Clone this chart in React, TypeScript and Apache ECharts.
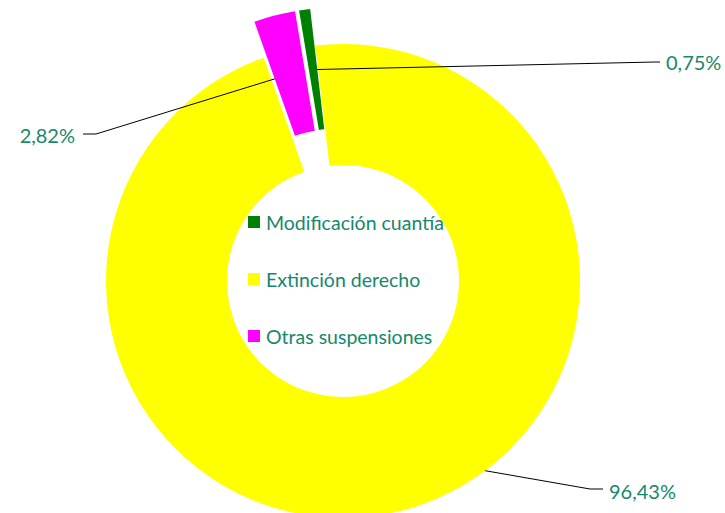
import React, { useEffect, useRef } from "react";
import * as echarts from "echarts";

const categories = ["Modificación cuantía", "Extinción derecho", "Otras suspensiones"];
const values = [0.75, 96.43, 2.82];
const valueLabels = ["0,75%", "96,43%", "2,82%"];
const colors = ["#008000", "#FFFF00", "#FF00FF"];
const exploded = [true, false, true];

const TEXT = "#17876C";
const FONT = "Lato";
const CX = 343;
const CY = 281;
const R_IN = 116;
const R_OUT = 237;
const OFFSET = 37;
const START_DEG = -9.4; // clockwise from 12 o'clock

// label text / elbow positions (layout, not data)
const labelPos = [
  { x: 666, y: 62, align: "left", elbow: [655, 62], end: [660, 62] },
  { x: 609, y: 491, align: "left", elbow: [590, 489], end: [603, 489] },
  { x: 75, y: 135, align: "right", elbow: [96, 134], end: [83, 134] },
];

export default function App() {
  const ref = useRef<HTMLDivElement>(null);
  useEffect(() => {
    if (!ref.current) return;
    const chart = echarts.init(ref.current, undefined, { renderer: "svg" });
    const total = values.reduce((a, b) => a + b, 0);
    const startPts: number[][] = [];
    const shifts: number[][] = [];
    let acc = START_DEG;
    values.forEach((v, i) => {
      const span = (v / total) * 360;
      const mid = ((acc + span / 2) * Math.PI) / 180;
      const off = exploded[i] ? OFFSET : 0;
      shifts.push([off * Math.sin(mid), -off * Math.cos(mid)]);
      const r = (R_IN + R_OUT) / 2 + off;
      startPts.push([CX + r * Math.sin(mid), CY - r * Math.cos(mid)]);
      acc += span;
    });
    const series = categories.map((_, s) => ({
      type: "pie",
      z: exploded[s] ? 5 : 2,
      center: [CX + shifts[s][0], CY + shifts[s][1]],
      radius: [R_IN, R_OUT],
      startAngle: 90 - START_DEG,
      clockwise: true,
      silent: true,
      avoidLabelOverlap: false,
      emphasis: { disabled: true },
      itemStyle: { borderWidth: 0 },
      label: {
        show: true,
        color: TEXT,
        fontFamily: FONT,
        fontSize: 20,
        formatter: (p: any) => (p.dataIndex === s ? valueLabels[p.dataIndex] : ""),
      },
      labelLine: { show: true, lineStyle: { color: "#000", width: 1 } },
      labelLayout: (p: any) => {
        const lp = labelPos[s];
        return {
          x: lp.x,
          y: lp.y,
          align: lp.align,
          verticalAlign: "middle",
          labelLinePoints: [startPts[s], lp.elbow, lp.end],
        };
      },
      data: categories.map((c, i) => ({
        name: c,
        value: values[i],
        itemStyle: { color: i === s ? colors[i] : "rgba(0,0,0,0)" },
        label: { show: i === s },
        labelLine: { show: i === s },
      })),
    }));
    chart.setOption({
      animation: false,
      legend: {
        orient: "vertical",
        left: 248,
        top: 211,
        padding: 0,
        z: 10,
        itemWidth: 12,
        itemHeight: 12,
        itemGap: 35,
        icon: "rect",
        selectedMode: false,
        textStyle: { color: TEXT, fontFamily: FONT, fontSize: 19.5, lineHeight: 22, padding: [0, 0, 0, 1] },
        data: categories.map((c, i) => ({ name: c, itemStyle: { color: colors[i] } })),
      },
      series,
    });
    return () => chart.dispose();
  }, []);
  return (
    <div
      ref={ref}
      style={{ position: "fixed", left: 0, top: 0, width: 725, height: 513, background: "#fff" }}
    />
  );
}
